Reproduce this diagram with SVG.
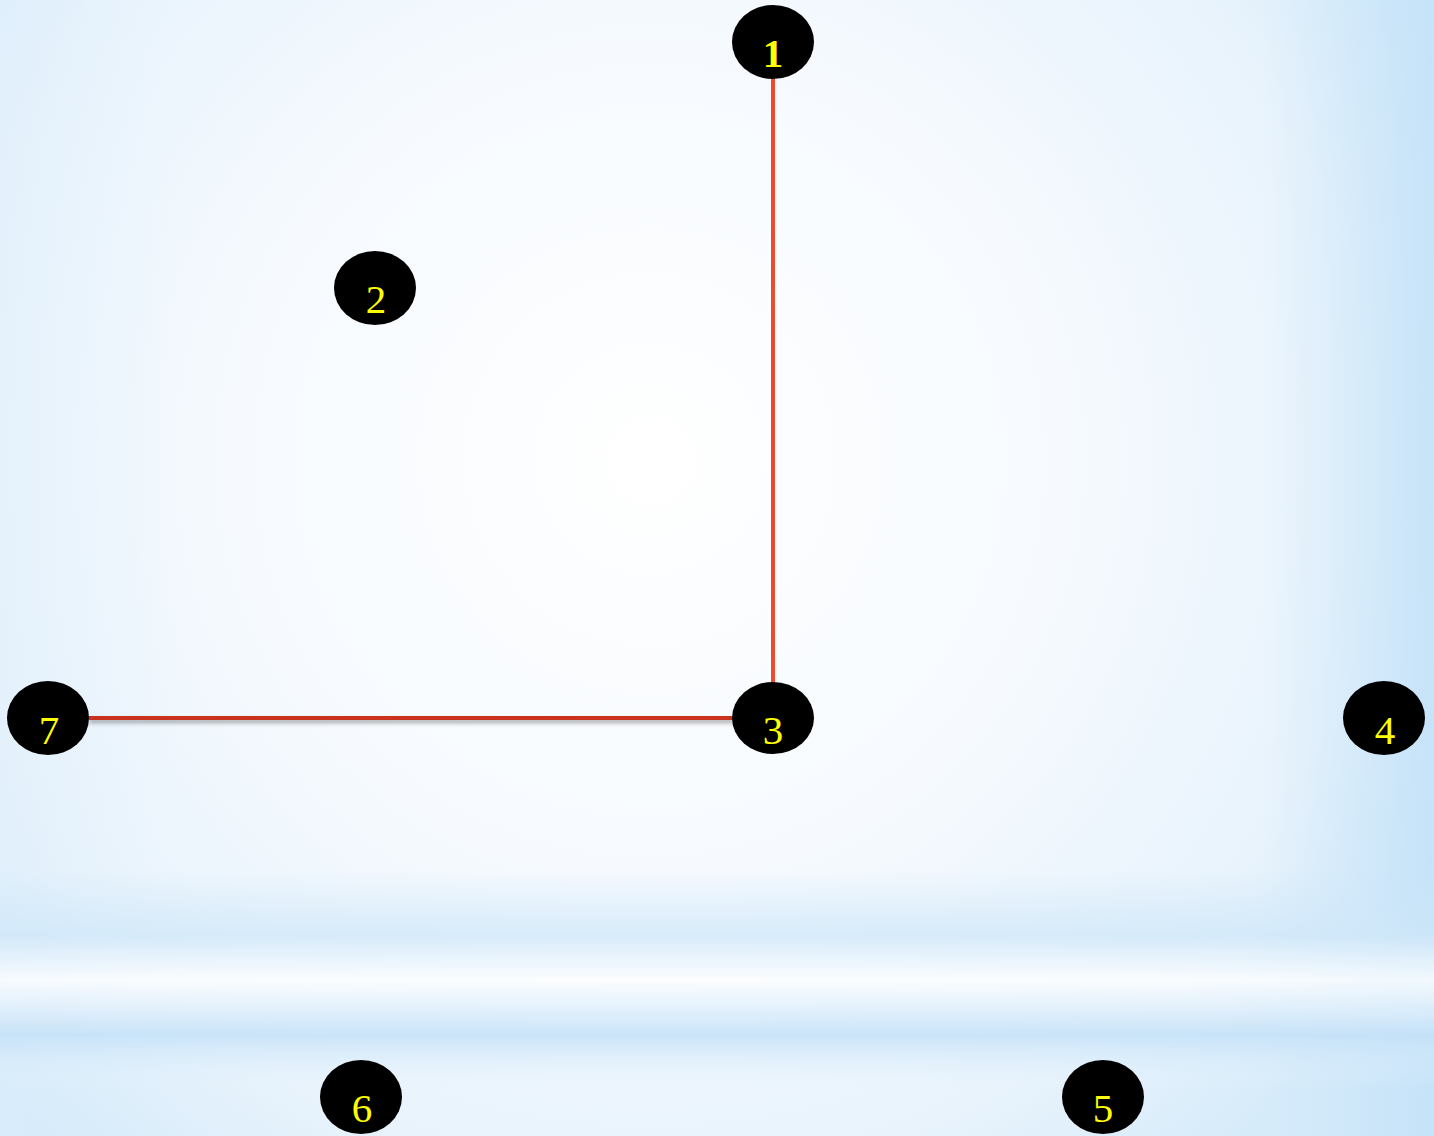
<svg xmlns="http://www.w3.org/2000/svg" width="1434" height="1136" viewBox="0 0 1434 1136">
<defs>
<radialGradient id="bg" cx="650" cy="460" r="900" gradientUnits="userSpaceOnUse">
<stop offset="0" stop-color="#ffffff"/>
<stop offset="0.45" stop-color="#f6fafe"/>
<stop offset="0.8" stop-color="#e8f3fc"/>
<stop offset="1" stop-color="#d6ebfa"/>
</radialGradient>
<linearGradient id="band" x1="0" y1="0" x2="0" y2="1">
<stop offset="0" stop-color="#cfe7f9" stop-opacity="0"/>
<stop offset="0.3" stop-color="#cfe7f9" stop-opacity="0.9"/>
<stop offset="0.5" stop-color="#ffffff" stop-opacity="0.9"/>
<stop offset="0.75" stop-color="#c4e1f8" stop-opacity="1"/>
<stop offset="1" stop-color="#e8f4fd" stop-opacity="0"/>
</linearGradient>
<linearGradient id="sides" x1="0" y1="0" x2="1" y2="0">
<stop offset="0" stop-color="#dcedfb" stop-opacity="0.4"/>
<stop offset="0.12" stop-color="#dcedfb" stop-opacity="0"/>
<stop offset="0.88" stop-color="#c8e4f8" stop-opacity="0"/>
<stop offset="1" stop-color="#c0e0f8" stop-opacity="0.8"/>
</linearGradient>
<filter id="sh" filterUnits="userSpaceOnUse" x="60" y="700" width="700" height="40">
<feDropShadow dx="0" dy="3" stdDeviation="2" flood-color="#000" flood-opacity="0.35"/>
</filter>
</defs>
<style>
.node ellipse{fill:#000;}
.node text{font-family:"Liberation Serif","Times New Roman",serif;font-size:41px;fill:#ffff00;text-anchor:middle;}
.edge{fill:none;stroke-width:4;}
</style>
<rect width="1434" height="1136" fill="url(#bg)"/>
<rect width="1434" height="1136" fill="url(#sides)"/>
<rect x="0" y="870" width="1434" height="220" fill="url(#band)" opacity="0.85"/>
<g id="connectors">
<line class="edge" x1="773" y1="79" x2="773" y2="684" stroke="#ee4a2b"/>
<line class="edge" x1="89" y1="718" x2="734" y2="718" stroke="#c9321f" filter="url(#sh)"/>
</g>
<g id="node1" class="node"><ellipse cx="773" cy="42" rx="41" ry="37"/><text x="773" y="67" font-weight="bold">1</text></g>
<g id="node2" class="node"><ellipse cx="375" cy="288" rx="41" ry="37"/><text x="376" y="313">2</text></g>
<g id="node3" class="node"><ellipse cx="773" cy="718" rx="41" ry="36"/><text x="773" y="744">3</text></g>
<g id="node4" class="node"><ellipse cx="1384" cy="718" rx="41" ry="37"/><text x="1385" y="744">4</text></g>
<g id="node5" class="node"><ellipse cx="1103" cy="1097" rx="41" ry="37"/><text x="1103" y="1122">5</text></g>
<g id="node6" class="node"><ellipse cx="361" cy="1097" rx="41" ry="37"/><text x="362" y="1122">6</text></g>
<g id="node7" class="node"><ellipse cx="48" cy="718" rx="41" ry="37"/><text x="49" y="744">7</text></g>
</svg>
